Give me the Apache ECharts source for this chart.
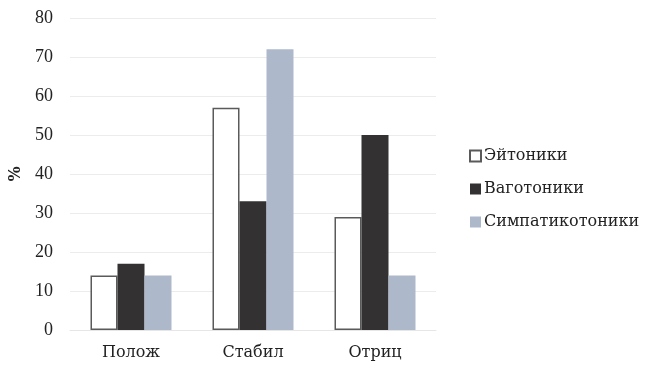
<!DOCTYPE html>
<html>
<head>
<meta charset="utf-8">
<script src="https://cdn.jsdelivr.net/npm/echarts@6/dist/echarts.min.js"></script>
<style>
  html, body { margin: 0; padding: 0; background: #fff; }
  #chart { width: 645px; height: 370px; }
</style>
</head>
<body>
<div id="chart"></div>
<script>
// Categories and series values (percent)
const categories = ['Полож', 'Стабил', 'Отриц'];
const seriesNames = ['Эйтоники', 'Ваготоники', 'Симпатикотоники'];
const eutonic = [14, 57, 29];
const vagotonic = [17, 33, 50];
const sympathicotonic = [14, 72, 14];
const yTicks = { min: 0, max: 80, interval: 10 };

const tickFont = 'Liberation Serif, serif';
const labelFont = 'DejaVu Serif, serif';
const chart = echarts.init(document.getElementById('chart'), null, { renderer: 'canvas' });

chart.setOption({
  animation: false,
  backgroundColor: '#ffffff',
  textStyle: { fontFamily: labelFont },
  grid: { left: 70, right: 209, top: 18, bottom: 40 },
  legend: {
    orient: 'vertical',
    left: 464,
    top: 143,
    itemWidth: 11,
    itemHeight: 11,
    itemGap: 17,
    icon: 'rect',
    textStyle: { fontFamily: labelFont, fontSize: 16, color: '#222', padding: [0, 0, 0, -2] },
    data: seriesNames
  },
  xAxis: {
    type: 'category',
    data: categories,
    axisLine: { show: true, lineStyle: { color: '#e6e6e6', width: 1 } },
    axisTick: { show: false },
    axisLabel: { fontFamily: labelFont, fontSize: 16, color: '#222', margin: 15 }
  },
  yAxis: {
    type: 'value',
    min: yTicks.min,
    max: yTicks.max,
    interval: yTicks.interval,
    name: '%',
    nameLocation: 'middle',
    nameGap: 44,
    nameRotate: 90,
    nameTextStyle: { fontFamily: labelFont, fontSize: 16, fontWeight: 'bold', color: '#222' },
    axisLine: { show: false },
    axisTick: { show: false },
    axisLabel: { fontFamily: tickFont, fontSize: 18, color: '#222', margin: 17 },
    splitLine: { lineStyle: { color: '#ececec', width: 1 } }
  },
  series: [
    {
      name: seriesNames[0],
      type: 'bar',
      data: eutonic,
      barWidth: 27,
      barGap: '0%',
      itemStyle: { color: '#ffffff', borderColor: '#5a5a5a', borderWidth: 1.5 }
    },
    {
      name: seriesNames[1],
      type: 'bar',
      data: vagotonic,
      barWidth: 27,
      barGap: '0%',
      itemStyle: { color: '#333132' }
    },
    {
      name: seriesNames[2],
      type: 'bar',
      data: sympathicotonic,
      barWidth: 27,
      barGap: '0%',
      itemStyle: { color: '#adb8ca' }
    }
  ]
});
</script>
</body>
</html>
